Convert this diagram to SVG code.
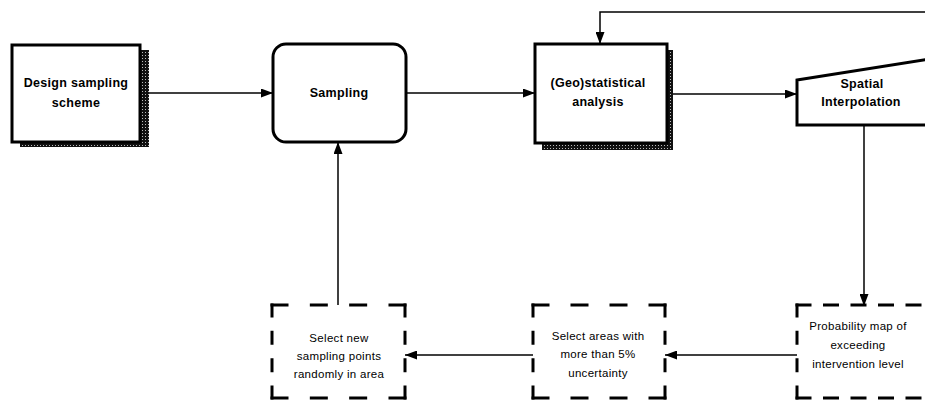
<svg xmlns="http://www.w3.org/2000/svg" width="925" height="405" viewBox="0 0 925 405">
<defs>
<marker id="ah" markerUnits="userSpaceOnUse" markerWidth="13" markerHeight="9" refX="12" refY="4.5" orient="auto">
<path d="M0,0 L12,4.5 L0,9 z" fill="#000"/>
</marker>
<pattern id="shade" width="3" height="3" patternUnits="userSpaceOnUse">
<rect width="3" height="3" fill="#111"/>
<rect x="1" y="1" width="1" height="1" fill="#bbb"/>
</pattern>
</defs>
<style>
.box{fill:#fff;stroke:#000;stroke-width:3}
.shadow{fill:url(#shade)}
.conn{fill:none;stroke:#000;stroke-width:1.5}
.bt{font-family:"Liberation Sans",Arial,sans-serif;font-weight:bold;font-size:12.5px;letter-spacing:0.3px;text-anchor:middle;fill:#000}
.nt{font-family:"Liberation Sans",Arial,sans-serif;font-size:11.5px;letter-spacing:0.3px;text-anchor:middle;fill:#000}
.dh{stroke:#000;stroke-width:3;fill:none;stroke-dasharray:18 21.33}
.dv{stroke:#000;stroke-width:3;fill:none;stroke-dasharray:14 13.33}
.dhc{stroke:#000;stroke-width:3;fill:none;stroke-dasharray:16 11.5}
</style>
<rect width="925" height="405" fill="#fff"/>

<g id="connectors">
<line class="conn" x1="149" y1="93" x2="273" y2="93" marker-end="url(#ah)"/>
<line class="conn" x1="406" y1="93" x2="535" y2="93" marker-end="url(#ah)"/>
<line class="conn" x1="673" y1="94" x2="797" y2="94" marker-end="url(#ah)"/>
<polyline class="conn" points="925,12 600,12 600,44" marker-end="url(#ah)"/>
<line class="conn" x1="864" y1="125" x2="864" y2="306" marker-end="url(#ah)"/>
<line class="conn" x1="797" y1="355" x2="665" y2="355" marker-end="url(#ah)"/>
<line class="conn" x1="533" y1="355" x2="405" y2="355" marker-end="url(#ah)"/>
<line class="conn" x1="338" y1="305" x2="338" y2="142" marker-end="url(#ah)"/>
</g>

<g id="design">
<rect class="shadow" x="20" y="50" width="129" height="97"/>
<rect class="box" x="12" y="45" width="128" height="97"/>
<text class="bt" x="76" y="87">Design sampling</text>
<text class="bt" x="76" y="107">scheme</text>
</g>

<g id="sampling">
<rect class="box" x="273" y="44" width="133" height="98" rx="13" ry="13"/>
<text class="bt" x="339" y="97">Sampling</text>
</g>

<g id="geostat">
<rect class="shadow" x="542" y="50" width="131" height="100"/>
<rect class="box" x="535" y="44" width="132" height="99"/>
<text class="bt" x="598" y="87">(Geo)statistical</text>
<text class="bt" x="598" y="106">analysis</text>
</g>

<g id="spatial">
<polygon class="box" points="797,80 930,59 930,125 797,125"/>
<text class="bt" x="862" y="88">Spatial</text>
<text class="bt" x="861" y="106">Interpolation</text>
</g>

<g id="selectnew">
<line class="dh" x1="270.5" y1="305" x2="406.5" y2="305"/>
<line class="dh" x1="270.5" y1="398" x2="406.5" y2="398"/>
<line class="dv" x1="272" y1="303.5" x2="272" y2="399.5"/>
<line class="dv" x1="405" y1="303.5" x2="405" y2="399.5"/>
<text class="nt" x="339" y="342">Select new</text>
<text class="nt" x="339" y="360">sampling points</text>
<text class="nt" x="339" y="378">randomly in area</text>
</g>

<g id="selectareas">
<line class="dh" x1="531.5" y1="305" x2="666.5" y2="305" style="stroke-dasharray:18 21"/>
<line class="dh" x1="531.5" y1="398" x2="666.5" y2="398" style="stroke-dasharray:18 21"/>
<line class="dv" x1="533" y1="303.5" x2="533" y2="399.5"/>
<line class="dv" x1="665" y1="303.5" x2="665" y2="399.5"/>
<text class="nt" x="598" y="340">Select areas with</text>
<text class="nt" x="598" y="358">more than 5%</text>
<text class="nt" x="598" y="377">uncertainty</text>
</g>

<g id="probmap">
<line class="dhc" x1="795.5" y1="305" x2="930" y2="305"/>
<line class="dhc" x1="795.5" y1="398" x2="930" y2="398"/>
<line class="dv" x1="797" y1="303.5" x2="797" y2="399.5"/>
<text class="nt" x="858" y="330">Probability map of</text>
<text class="nt" x="858" y="349">exceeding</text>
<text class="nt" x="858" y="368">intervention level</text>
</g>
</svg>
